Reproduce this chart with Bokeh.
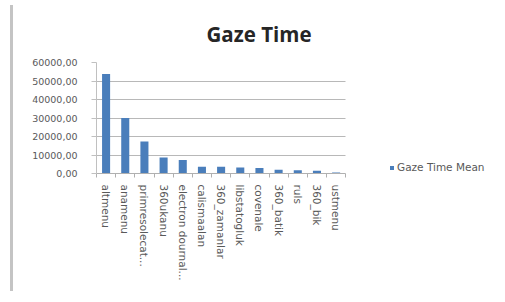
import math
from bokeh.plotting import figure
from bokeh.layouts import row
from bokeh.models import (ColumnDataSource, Range1d, CustomJSTickFormatter,
                          Legend, LegendItem, Title, FixedTicker, Div, Spacer)
from bokeh.embed import file_html
from bokeh.resources import INLINE

# ---- data ----
categories = ["altmenu", "anamenu", "primresolecat...", "360ukanu", "electron dournal...",
              "calismaalan", "360_zamanlar", "libstatogluk", "covenale", "360_batik",
              "ruls", "360_bik", "ustmenu"]
gaze_time_mean = [53800, 30000, 17300, 8700, 7300, 3600, 3600, 3300, 3000, 2000, 1700, 1500, 500]
y_ticks = [0, 10000, 20000, 30000, 40000, 50000, 60000]
series_name = "Gaze Time Mean"
chart_title = "Gaze Time"

positions = list(range(len(categories)))
n = len(categories)

W, H = 481, 286
BL, BR, BT, BB = 78, 5, 62, 113
STEP = 19.17  # px per category
frame_w = W - BL - BR
x_end = -0.5 + frame_w / STEP

p = figure(width=W, height=H, x_range=Range1d(-0.5, x_end), y_range=Range1d(0, 60000),
           output_backend="svg", toolbar_location=None,
           min_border_left=BL, min_border_right=BR, min_border_top=BT, min_border_bottom=BB)
p.outline_line_color = None
p.background_fill_color = "white"
p.border_fill_color = "white"

src = ColumnDataSource(dict(x=positions, val=gaze_time_mean))
r = p.vbar(x="x", top="val", width=0.42, source=src,
           fill_color="#4a7ebb", line_color=None)

# title
p.title = Title(text=chart_title, align="left", offset=110, standoff=29,
                text_font="Open Sans", text_font_style="bold",
                text_font_size="20.5px", text_color="#262626")

# axes
p.yaxis.ticker = FixedTicker(ticks=y_ticks)
p.yaxis.formatter = CustomJSTickFormatter(code="return tick.toFixed(2).replace('.', ',');")
p.yaxis.axis_line_color = "#c0c0c0"
p.yaxis.major_tick_line_color = "#c0c0c0"
p.yaxis.major_tick_out = 5
p.yaxis.major_tick_in = 0
p.yaxis.minor_tick_line_color = None
p.yaxis.major_label_standoff = 14
p.yaxis.major_label_text_font = "DejaVu Sans"
p.yaxis.major_label_text_font_size = "9.5px"
p.yaxis.major_label_text_color = "#595959"

p.xaxis.ticker = FixedTicker(ticks=positions, minor_ticks=[i - 0.5 for i in range(n + 1)])
p.xaxis.major_label_overrides = {i: c for i, c in zip(positions, categories)}
p.xaxis.bounds = (-0.5, n - 0.5)
p.xaxis.axis_line_color = "#b0b0b0"
p.xaxis.major_tick_line_color = None
p.xaxis.minor_tick_line_color = "#b0b0b0"
p.xaxis.minor_tick_out = 4
p.xaxis.minor_tick_in = 0
p.xaxis.major_label_orientation = -math.pi / 2
p.xaxis.major_label_standoff = 5
p.xaxis.major_label_text_font = "DejaVu Sans"
p.xaxis.major_label_text_font_size = "10.5px"
p.xaxis.major_label_text_color = "#595959"

p.xgrid.grid_line_color = None
p.ygrid.ticker = FixedTicker(ticks=y_ticks)
p.ygrid.grid_line_color = "#b8b8b8"
p.ygrid.grid_line_width = 1
try:
    p.ygrid.cross_bounds = (-0.5, n - 0.5)
except Exception:
    p.ygrid.grid_line_color = None
    p.segment(x0=[-0.5] * len(y_ticks), x1=[n - 0.5] * len(y_ticks),
              y0=y_ticks, y1=y_ticks, line_color="#b8b8b8", line_width=1, level="underlay")

# legend (inside the extended frame, right of the bars)
legend = Legend(items=[LegendItem(label=series_name, renderers=[r])],
                location=(293, 0), padding=0, margin=0, spacing=0,
                glyph_width=5, glyph_height=5, label_standoff=3,
                label_text_font="DejaVu Sans", label_text_font_size="10.5px",
                label_text_color="#595959", label_height=8,
                border_line_color=None, background_fill_alpha=0)
p.add_layout(legend)

edge = Div(text="", width=3, height=H, styles={"background-color": "#c4c4c4"})
layout = row(Spacer(width=5, height=H), edge, p)

open("out.html", "w").write(file_html(layout, INLINE))
